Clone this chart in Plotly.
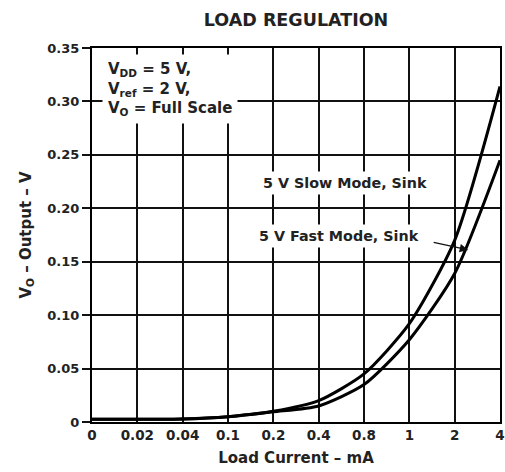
import plotly.graph_objects as go

# Data
load_current = ["0", "0.02", "0.04", "0.1", "0.2", "0.4", "0.8", "1", "2", "4"]
slow_mode_sink = [0.0025, 0.0025, 0.0028, 0.005, 0.0100, 0.020, 0.045, 0.092, 0.170, 0.314]
fast_mode_sink = [0.0025, 0.0025, 0.0027, 0.0048, 0.0095, 0.015, 0.035, 0.077, 0.139, 0.245]
y_ticks = [0, 0.05, 0.10, 0.15, 0.20, 0.25, 0.30, 0.35]
y_ticklabels = ["0", "0.05", "0.10", "0.15", "0.20", "0.25", "0.30", "0.35"]

FONT = "DejaVu Sans, Liberation Sans, Arial, sans-serif"
TXT = "#222222"

fig = go.Figure()
for name, vals in [("5 V Slow Mode, Sink", slow_mode_sink), ("5 V Fast Mode, Sink", fast_mode_sink)]:
    fig.add_trace(go.Scatter(
        x=load_current, y=vals, mode="lines", name=name,
        line=dict(color="black", width=3, shape="spline", smoothing=0.65),
        showlegend=False, cliponaxis=False,
    ))

fig.update_layout(
    width=505, height=472,
    margin=dict(l=92, r=5, t=48, b=50),
    paper_bgcolor="white", plot_bgcolor="white",
    font=dict(family=FONT, color=TXT, size=14),
    title=dict(text="<b>LOAD REGULATION</b>", x=296 / 505,
               xanchor="center", y=1 - 20 / 472, yanchor="middle",
               font=dict(size=17.5, family=FONT, color=TXT)),
)

fig.update_xaxes(
    type="category", range=[0, 9], automargin=False,
    showgrid=True, gridcolor="#111111", gridwidth=1.5,
    showline=True, linecolor="black", linewidth=2, mirror=True,
    ticks="", tickfont=dict(size=13.5, family=FONT, color=TXT),
    tickprefix="<b>", ticksuffix="</b>",
    title=dict(text="<b>Load Current – mA</b>", standoff=10,
               font=dict(size=15, family=FONT, color=TXT)),
    zeroline=False,
)
fig.update_yaxes(
    range=[0, 0.35], tickvals=y_ticks, ticktext=["<b>%s</b>" % t for t in y_ticklabels],
    automargin=False,
    showgrid=True, gridcolor="#111111", gridwidth=1.5,
    showline=True, linecolor="black", linewidth=2, mirror=True,
    ticks="outside", ticklen=8, tickcolor="#111111", tickwidth=1.5,
    tickfont=dict(size=13, family=FONT, color=TXT),
    title=dict(text="<b>V<sub>O</sub> – Output – V</b>", standoff=12,
               font=dict(size=15, family=FONT, color=TXT)),
    zeroline=False,
)

# Condition box
fig.add_annotation(
    xref="paper", yref="paper", x=0.025, y=0.985, xanchor="left", yanchor="top",
    text="<b>V<sub>DD</sub> = 5 V,<br>V<sub>ref</sub> = 2 V,<br>V<sub>O</sub> = Full Scale</b>",
    align="left", showarrow=False, bgcolor="white", borderpad=5,
    font=dict(size=15, family=FONT, color=TXT),
)
# Curve labels
fig.add_annotation(
    xref="paper", yref="paper", x=0.41, y=0.639, xanchor="left", yanchor="middle",
    text="<b>5 V Slow Mode, Sink</b>", showarrow=False, bgcolor="white", borderpad=3,
    font=dict(size=14.3, family=FONT, color=TXT),
)
fig.add_annotation(
    xref="paper", yref="paper", x=0.40, y=0.497, xanchor="left", yanchor="middle",
    text="<b>5 V Fast Mode, Sink</b>", showarrow=False, bgcolor="white", borderpad=3,
    font=dict(size=14.3, family=FONT, color=TXT),
)
# Arrow to fast-mode curve
fig.add_annotation(
    xref="paper", yref="paper", x=0.922, y=0.46, text="", showarrow=True,
    ax=-36, ay=-8, arrowhead=2, arrowsize=1.3, arrowwidth=1.3, arrowcolor="#111111",
)

fig.write_html(
    "out.html",
    config={"displayModeBar": False},
    post_script="document.body.style.margin='0';document.body.style.overflow='hidden';",
)
